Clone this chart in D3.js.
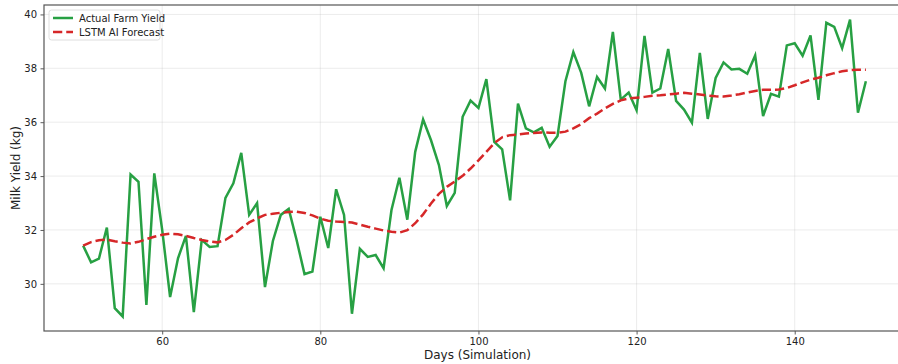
<!DOCTYPE html>
<html>
<head>
<meta charset="utf-8">
<script src="https://cdn.jsdelivr.net/npm/d3@7"></script>
<style>
  html, body { margin: 0; padding: 0; background: #fff; }
  svg { display: block; font-family: "DejaVu Sans", sans-serif; }
</style>
</head>
<body>
<svg id="chart" width="898" height="364"></svg>
<script>
// Simulation days 50..149
const days = d3.range(50, 150);

// Observed daily milk yield (kg)
const actualYield = [
  31.42, 30.80, 30.94, 32.09, 29.10, 28.79, 34.06, 33.79, 29.22, 34.10,
  32.00, 29.51, 30.95, 31.78, 28.95, 31.63, 31.37, 31.40, 33.19, 33.73,
  34.86, 32.56, 33.00, 29.88, 31.59, 32.56, 32.78, 31.63, 30.36, 30.46,
  32.49, 31.33, 33.51, 32.56, 28.89, 31.30, 31.00, 31.07, 30.58, 32.74,
  33.94, 32.38, 34.90, 36.10, 35.33, 34.41, 32.89, 33.38, 36.20, 36.80,
  36.53, 37.60, 35.27, 34.99, 33.10, 36.69, 35.77, 35.62, 35.79, 35.09,
  35.49, 37.52, 38.60, 37.83, 36.59, 37.68, 37.25, 39.35, 36.84, 37.10,
  36.44, 39.20, 37.10, 37.25, 38.72, 36.79, 36.47, 35.98, 38.57, 36.12,
  37.64, 38.22, 37.96, 37.98, 37.80, 38.48, 36.23, 37.05, 36.95, 38.85,
  38.93, 38.47, 39.22, 36.83, 39.69, 39.54, 38.75, 39.81, 36.35, 37.52
];

// Model forecast (kg)
const forecastYield = [
  31.42, 31.55, 31.62, 31.64, 31.58, 31.53, 31.50, 31.56, 31.66, 31.75,
  31.82, 31.86, 31.84, 31.78, 31.70, 31.63, 31.57, 31.54, 31.63, 31.82,
  32.06, 32.28, 32.43, 32.56, 32.60, 32.64, 32.67, 32.68, 32.63, 32.54,
  32.42, 32.34, 32.31, 32.30, 32.28, 32.20, 32.12, 32.05, 31.98, 31.93,
  31.90, 31.99, 32.25, 32.58, 32.98, 33.34, 33.60, 33.80, 34.01, 34.28,
  34.58, 34.90, 35.22, 35.44, 35.52, 35.54, 35.58, 35.60, 35.62, 35.61,
  35.61, 35.65, 35.77, 35.93, 36.15, 36.32, 36.51, 36.68, 36.81, 36.88,
  36.91, 36.94, 36.98, 37.00, 37.03, 37.06, 37.09, 37.06, 37.03, 36.99,
  36.96, 36.95, 36.99, 37.04, 37.10, 37.16, 37.20, 37.20, 37.21, 37.27,
  37.37, 37.48, 37.58, 37.65, 37.74, 37.82, 37.89, 37.93, 37.95, 37.95
];

const xTicks = [60, 80, 100, 120, 140];
const yTicks = [30, 32, 34, 36, 38, 40];

const seriesNames = ["Actual Farm Yield", "LSTM AI Forecast"];
const seriesColors = ["#27a043", "#d62728"];

const svg = d3.select("#chart");

const plot = { left: 44, top: 5, right: 905, bottom: 331 };

const x = d3.scaleLinear().domain([45.05, 153.95]).range([plot.left, plot.right]);
const y = d3.scaleLinear().domain([28.25, 40.35]).range([plot.bottom, plot.top]);

// Grid
const grid = svg.append("g");
grid.selectAll("line.gx").data(xTicks).enter().append("line")
  .attr("x1", d => x(d)).attr("x2", d => x(d))
  .attr("y1", plot.top).attr("y2", plot.bottom)
  .attr("stroke", "#b0b0b0").attr("stroke-opacity", 0.3).attr("stroke-width", 0.8);
grid.selectAll("line.gy").data(yTicks).enter().append("line")
  .attr("x1", plot.left).attr("x2", plot.right)
  .attr("y1", d => y(d)).attr("y2", d => y(d))
  .attr("stroke", "#b0b0b0").attr("stroke-opacity", 0.3).attr("stroke-width", 0.8);

// Series lines
const line = (vals) => d3.line()
  .x((d, i) => x(days[i]))
  .y(d => y(d))(vals);

svg.append("path")
  .attr("d", line(actualYield))
  .attr("fill", "none")
  .attr("stroke", seriesColors[0])
  .attr("stroke-width", 2.5)
  .attr("stroke-linejoin", "miter")
  .attr("stroke-linecap", "butt");

svg.append("path")
  .attr("d", line(forecastYield))
  .attr("fill", "none")
  .attr("stroke", seriesColors[1])
  .attr("stroke-width", 2.5)
  .attr("stroke-dasharray", "9.25,4");

// Axes
const xAxis = d3.axisBottom(x).tickValues(xTicks).tickSize(3.5).tickPadding(3.5).tickFormat(d3.format("d"));
const yAxis = d3.axisLeft(y).tickValues(yTicks).tickSize(3.5).tickPadding(3.5).tickFormat(d3.format("d"));

const gx = svg.append("g").attr("transform", `translate(0,${plot.bottom})`).call(xAxis);
const gy = svg.append("g").attr("transform", `translate(${plot.left},0)`).call(yAxis);
[gx, gy].forEach(g => {
  g.select(".domain").remove();
  g.selectAll(".tick line").attr("stroke", "#333").attr("stroke-width", 0.8);
  g.selectAll(".tick text").attr("fill", "#222").attr("font-size", 10)
    .attr("font-family", "DejaVu Sans, sans-serif");
});

// Frame
svg.append("rect")
  .attr("x", plot.left).attr("y", plot.top)
  .attr("width", plot.right - plot.left).attr("height", plot.bottom - plot.top)
  .attr("fill", "none").attr("stroke", "#555").attr("stroke-width", 1.2);

// Axis titles
svg.append("text")
  .attr("x", (plot.left + 911) / 2).attr("y", 359)
  .attr("text-anchor", "middle").attr("font-size", 12).attr("fill", "#222")
  .text("Days (Simulation)");
svg.append("text")
  .attr("transform", `translate(20,${(plot.top + plot.bottom) / 2}) rotate(-90)`)
  .attr("text-anchor", "middle").attr("font-size", 12).attr("fill", "#222")
  .text("Milk Yield (kg)");

// Legend
const lg = svg.append("g").attr("transform", "translate(49,10)");
lg.append("rect").attr("width", 111).attr("height", 30).attr("rx", 2.5)
  .attr("fill", "#fff").attr("fill-opacity", 0.8)
  .attr("stroke", "#d6d6d6").attr("stroke-width", 0.8);
seriesNames.forEach((name, i) => {
  const cy = 8 + i * 14;
  lg.append("line").attr("x1", 4).attr("x2", 24).attr("y1", cy).attr("y2", cy)
    .attr("stroke", seriesColors[i]).attr("stroke-width", 2.5)
    .attr("stroke-dasharray", i === 1 ? "9.25,4" : null);
  lg.append("text").attr("x", 30).attr("y", cy + 3.5)
    .attr("font-size", 10).attr("fill", "#222").text(name);
});
</script>
</body>
</html>
